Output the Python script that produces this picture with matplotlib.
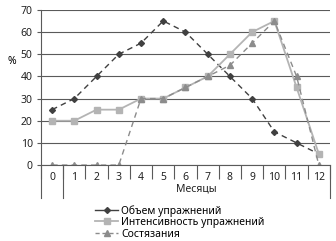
import matplotlib.pyplot as plt
from matplotlib.lines import Line2D

months = list(range(13))
month_labels = [str(m) for m in months]

volume = [25, 30, 40, 50, 55, 65, 60, 50, 40, 30, 15, 10, 5]
intensity = [20, 20, 25, 25, 30, 30, 35, 40, 50, 60, 65, 35, 5]
competition = [0, 0, 0, 0, 30, 30, 35, 40, 45, 55, 65, 40, 0]

names = ['Объем упражнений', 'Интенсивность упражнений', 'Состязания']

plt.rcParams['font.family'] = ['Noto Sans', 'DejaVu Sans']
plt.rcParams['font.size'] = 7.5

fig = plt.figure(figsize=(3.36, 2.41), dpi=100)
ax = fig.add_axes([0.122, 0.315, 0.860, 0.644])

c_vol, c_int, c_comp = '#404040', '#b4b4b4', '#8c8c8c'
axis_c = '#5a5a5a'

ax.plot(months, volume, color=c_vol, lw=1, ls=(0, (4, 3)),
        marker='D', ms=3, mfc=c_vol, mec=c_vol)
ax.plot(months, intensity, color=c_int, lw=1.3,
        marker='s', ms=5, mfc=c_int, mec=c_int)
ax.plot(months, competition, color=c_comp, lw=1, ls=(0, (4, 3)),
        marker='^', ms=4.5, mfc=c_comp, mec=c_comp)

ax.set_xlim(-0.5, 12.5)
ax.set_ylim(0, 70)
ax.set_yticks(range(0, 71, 10))
ax.set_xticks(months)
ax.set_xticklabels(month_labels)
ax.set_xticks([m - 0.5 for m in months] + [12.5], minor=True)
ax.tick_params(axis='x', which='major', length=0, pad=5, colors='#222222')
ax.tick_params(axis='x', which='minor', length=10, width=0.8, color=axis_c)
ax.tick_params(axis='y', length=3, width=0.8, color=axis_c, colors='#222222', pad=3)

ax.grid(axis='y', color=axis_c, lw=0.8)
ax.set_axisbelow(True)
for s in ['top', 'right']:
    ax.spines[s].set_visible(False)
for s in ['left', 'bottom']:
    ax.spines[s].set_color(axis_c)
    ax.spines[s].set_linewidth(0.8)

# group separators of the two-level category axis
tr = ax.get_xaxis_transform()
for xb in [-0.5, 0.5, 12.5]:
    ax.plot([xb, xb], [0, -0.21], transform=tr, color=axis_c, lw=0.8, clip_on=False)
ax.text(6.5, -0.155, 'Месяцы', transform=tr, ha='center', va='center', color='#222222')

ax.set_ylabel('%', rotation=0, va='center')
ax.yaxis.set_label_coords(-0.1, 0.67)

handles = [
    Line2D([], [], color=c_vol, lw=1, marker='D', ms=3),
    Line2D([], [], color=c_int, lw=1.3, marker='s', ms=5),
    Line2D([], [], color=c_comp, lw=1, ls=(0, (3, 2)), marker='^', ms=4.5),
]
fig.legend(handles, names, loc='upper left', bbox_to_anchor=(0.283, 0.15),
           frameon=False, handlelength=2.2, handletextpad=0.3,
           labelspacing=0.05, borderpad=0, borderaxespad=0)

fig.savefig('out.png', dpi=100)
